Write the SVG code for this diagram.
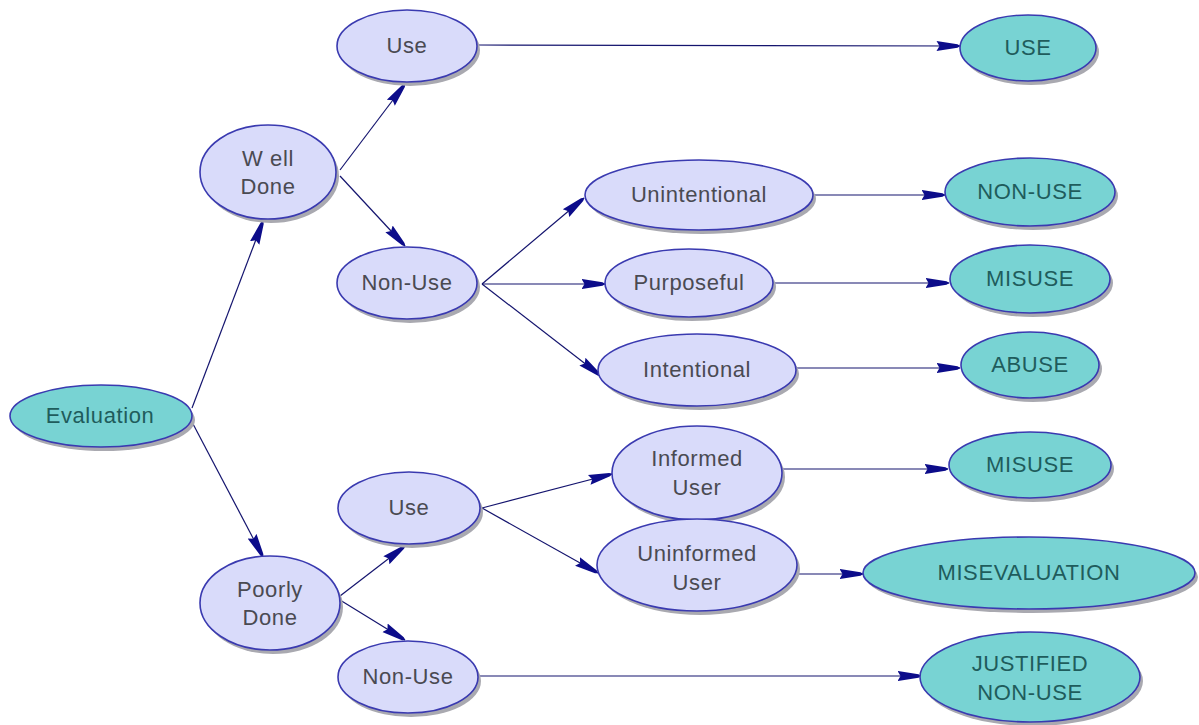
<svg xmlns="http://www.w3.org/2000/svg" width="1199" height="725" viewBox="0 0 1199 725">
  <style>
    .shadow { fill: #a9a9b0; }
    .concept { fill: #d9dbfa; stroke: #3a3ab0; stroke-width: 1.6; }
    .outcome { fill: #78d3d3; stroke: #3a3ab0; stroke-width: 1.6; }
    .label { font-family: "Liberation Sans", "DejaVu Sans", sans-serif; font-size: 22px; letter-spacing: 0.6px; text-anchor: middle; dominant-baseline: central; fill: #4a4a52; }
    .olabel { font-family: "Liberation Sans", "DejaVu Sans", sans-serif; font-size: 22px; letter-spacing: 0.6px; text-anchor: middle; dominant-baseline: central; fill: #1f5c5c; }
    .link { fill: none; stroke: #14146e; stroke-width: 1.2; marker-end: url(#arrow); }
  </style>
  <defs>
    <!-- long tapered arrowhead, tip at the target outline -->
    <marker id="arrow" viewBox="0 0 24 12" markerWidth="24" markerHeight="12" refX="23.5" refY="6" orient="auto" markerUnits="userSpaceOnUse">
      <path d="M0,1 L21,4.3 L24,6 L21,7.7 L0,11 L3,6 Z" fill="#0c0c8a"/>
    </marker>
  </defs>
  <rect width="1199" height="725" fill="#ffffff"/>

  <!-- connectors -->
  <g id="connectors">
    <line class="link" x1="192" y1="408" x2="263" y2="221"/>
    <line class="link" x1="192" y1="422" x2="263" y2="557"/>
    <line class="link" x1="340" y1="170" x2="405" y2="84"/>
    <line class="link" x1="340" y1="176" x2="405" y2="246"/>
    <line class="link" x1="478" y1="45" x2="960" y2="46"/>
    <line class="link" x1="482" y1="284" x2="584" y2="198"/>
    <line class="link" x1="482" y1="284" x2="605" y2="284"/>
    <line class="link" x1="482" y1="284" x2="601" y2="376"/>
    <line class="link" x1="813" y1="195" x2="945" y2="195"/>
    <line class="link" x1="773" y1="283" x2="949" y2="283"/>
    <line class="link" x1="797" y1="368" x2="960" y2="368"/>
    <line class="link" x1="340" y1="596" x2="405" y2="546"/>
    <line class="link" x1="340" y1="600" x2="405" y2="640"/>
    <line class="link" x1="482" y1="508" x2="612" y2="474"/>
    <line class="link" x1="482" y1="508" x2="598" y2="573"/>
    <line class="link" x1="783" y1="469" x2="948" y2="469"/>
    <line class="link" x1="798" y1="574" x2="863" y2="574"/>
    <line class="link" x1="479" y1="676" x2="921" y2="676"/>
  </g>

  <g id="evaluation">
    <ellipse class="shadow" cx="104" cy="420" rx="91" ry="31"/>
    <ellipse class="outcome" cx="101" cy="416" rx="91" ry="31"/>
    <text class="olabel" x="100" y="415">Evaluation</text>
  </g>

  <g id="well-done">
    <ellipse class="shadow" cx="271" cy="176" rx="68" ry="47"/>
    <ellipse class="concept" cx="268" cy="172" rx="68" ry="47"/>
    <text class="label" x="268" y="158">W ell</text>
    <text class="label" x="268" y="186">Done</text>
  </g>

  <g id="poorly-done">
    <ellipse class="shadow" cx="273" cy="607" rx="70" ry="47"/>
    <ellipse class="concept" cx="270" cy="603" rx="70" ry="47"/>
    <text class="label" x="270" y="589">Poorly</text>
    <text class="label" x="270" y="617">Done</text>
  </g>

  <g id="use-well">
    <ellipse class="shadow" cx="410" cy="50" rx="70" ry="36"/>
    <ellipse class="concept" cx="407" cy="46" rx="70" ry="36"/>
    <text class="label" x="407" y="45">Use</text>
  </g>

  <g id="non-use-well">
    <ellipse class="shadow" cx="410" cy="287" rx="70" ry="36"/>
    <ellipse class="concept" cx="407" cy="283" rx="70" ry="36"/>
    <text class="label" x="407" y="282">Non-Use</text>
  </g>

  <g id="use-poor">
    <ellipse class="shadow" cx="412" cy="512" rx="71" ry="36"/>
    <ellipse class="concept" cx="409" cy="508" rx="71" ry="36"/>
    <text class="label" x="409" y="507">Use</text>
  </g>

  <g id="non-use-poor">
    <ellipse class="shadow" cx="411" cy="681" rx="70" ry="36"/>
    <ellipse class="concept" cx="408" cy="677" rx="70" ry="36"/>
    <text class="label" x="408" y="676">Non-Use</text>
  </g>

  <g id="unintentional">
    <ellipse class="shadow" cx="702" cy="199" rx="114" ry="35"/>
    <ellipse class="concept" cx="699" cy="195" rx="114" ry="35"/>
    <text class="label" x="699" y="194">Unintentional</text>
  </g>

  <g id="purposeful">
    <ellipse class="shadow" cx="692" cy="287" rx="84" ry="34"/>
    <ellipse class="concept" cx="689" cy="283" rx="84" ry="34"/>
    <text class="label" x="689" y="282">Purposeful</text>
  </g>

  <g id="intentional">
    <ellipse class="shadow" cx="700" cy="374" rx="99" ry="36"/>
    <ellipse class="concept" cx="697" cy="370" rx="99" ry="36"/>
    <text class="label" x="697" y="369">Intentional</text>
  </g>

  <g id="informed-user">
    <ellipse class="shadow" cx="700" cy="477" rx="85" ry="47"/>
    <ellipse class="concept" cx="697" cy="473" rx="85" ry="47"/>
    <text class="label" x="697" y="458">Informed</text>
    <text class="label" x="697" y="487">User</text>
  </g>

  <g id="uninformed-user">
    <ellipse class="shadow" cx="700" cy="569" rx="100" ry="46"/>
    <ellipse class="concept" cx="697" cy="565" rx="100" ry="46"/>
    <text class="label" x="697" y="553">Uninformed</text>
    <text class="label" x="697" y="582">User</text>
  </g>

  <g id="use-outcome">
    <ellipse class="shadow" cx="1031" cy="52" rx="68" ry="33"/>
    <ellipse class="outcome" cx="1028" cy="48" rx="68" ry="33"/>
    <text class="olabel" x="1028" y="47">USE</text>
  </g>

  <g id="non-use-outcome">
    <ellipse class="shadow" cx="1033" cy="196" rx="85" ry="34"/>
    <ellipse class="outcome" cx="1030" cy="192" rx="85" ry="34"/>
    <text class="olabel" x="1030" y="191">NON-USE</text>
  </g>

  <g id="misuse-purposeful">
    <ellipse class="shadow" cx="1033" cy="283" rx="80" ry="34"/>
    <ellipse class="outcome" cx="1030" cy="279" rx="80" ry="34"/>
    <text class="olabel" x="1030" y="278">MISUSE</text>
  </g>

  <g id="abuse">
    <ellipse class="shadow" cx="1033" cy="369" rx="69" ry="33"/>
    <ellipse class="outcome" cx="1030" cy="365" rx="69" ry="33"/>
    <text class="olabel" x="1030" y="364">ABUSE</text>
  </g>

  <g id="misuse-informed">
    <ellipse class="shadow" cx="1033" cy="469" rx="81" ry="33"/>
    <ellipse class="outcome" cx="1030" cy="465" rx="81" ry="33"/>
    <text class="olabel" x="1030" y="464">MISUSE</text>
  </g>

  <g id="misevaluation">
    <ellipse class="shadow" cx="1032" cy="577" rx="166" ry="36"/>
    <ellipse class="outcome" cx="1029" cy="573" rx="166" ry="36"/>
    <text class="olabel" x="1029" y="572">MISEVALUATION</text>
  </g>

  <g id="justified-non-use">
    <ellipse class="shadow" cx="1033" cy="681" rx="110" ry="45"/>
    <ellipse class="outcome" cx="1030" cy="677" rx="110" ry="45"/>
    <text class="olabel" x="1030" y="663">JUSTIFIED</text>
    <text class="olabel" x="1030" y="692">NON-USE</text>
  </g>
</svg>
